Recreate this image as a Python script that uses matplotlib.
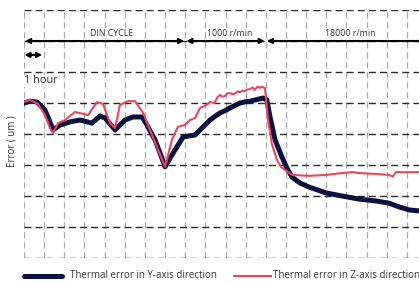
import matplotlib
matplotlib.use("Agg")
import matplotlib.pyplot as plt
from matplotlib.lines import Line2D

plt.rcParams['font.family'] = ['Open Sans', 'DejaVu Sans']

# time in hours (1 grid cell = 1 hour)
t_y = [0.0, 0.30, 0.65, 1.04, 1.25, 1.44, 1.79, 2.28, 2.78, 3.10, 3.37, 3.77, 4.02, 4.30, 4.52, 5.01,
       5.41, 5.86, 6.10, 6.30, 6.50, 6.75, 7.00, 7.25, 7.49, 7.89, 8.20, 8.49, 8.73, 9.00, 9.23,
       9.50, 9.73, 10.0, 10.22, 10.50, 10.72, 11.0, 11.22, 11.55, 11.86, 12.05,
       12.21, 12.46, 12.80, 13.05, 13.30, 13.70, 14.14, 14.99, 15.78, 16.63, 17.47, 18.11,
       18.61, 19.11, 19.60, 20.0]
err_y = [5.0, 5.06, 5.03, 4.77, 4.45, 4.13, 4.29, 4.39, 4.45, 4.40, 4.35, 4.58, 4.52, 4.30, 4.13, 4.45,
         4.55, 4.55, 4.29, 4.05, 3.81, 3.39, 2.94, 3.22, 3.48, 3.90, 3.94, 3.97, 4.13, 4.30, 4.45,
         4.58, 4.68, 4.76, 4.84, 4.93, 5.0, 5.04, 5.06, 5.11, 5.16, 5.10,
         4.55, 3.81, 3.26, 2.90, 2.61, 2.42, 2.29, 2.10, 2.0, 1.90, 1.84, 1.77,
         1.65, 1.55, 1.52, 1.51]

t_z = [0.0, 0.30, 0.69, 1.04, 1.29, 1.44, 1.69, 2.03, 2.53, 3.18, 3.62, 3.92, 4.27, 4.52, 4.76,
       5.16, 5.51, 5.91, 6.25, 6.60, 7.00, 7.34, 7.64, 7.99, 8.24, 8.50, 8.73, 8.95, 9.10, 9.23,
       9.45, 9.60, 9.73, 9.85, 9.95, 10.10, 10.22, 10.35, 10.45, 10.60, 10.72, 10.85, 10.95,
       11.10, 11.22, 11.35, 11.45, 11.60, 11.70, 11.81, 11.96, 12.11, 12.31,
       12.56, 12.75, 13.30, 14.14, 14.99, 15.78, 16.28, 16.63, 17.47, 18.11, 18.30, 18.46, 19.11,
       19.60, 20.0]
err_z = [5.03, 5.10, 4.97, 4.61, 4.19, 4.03, 4.35, 4.45, 4.71, 4.61, 5.03, 4.97, 4.35, 4.19, 4.94,
         5.06, 5.06, 4.68, 4.13, 3.58, 2.94, 3.81, 4.23, 4.29, 4.45, 4.52, 4.84, 4.90, 4.96, 5.03,
         5.00, 5.18, 5.26, 5.20, 5.22, 5.31, 5.32, 5.28, 5.30, 5.37, 5.35, 5.40, 5.38,
         5.44, 5.45, 5.50, 5.42, 5.53, 5.49, 5.52, 5.48, 4.45, 3.65,
         3.16, 2.94, 2.68, 2.65, 2.68, 2.74, 2.77, 2.74, 2.71, 2.68, 2.62, 2.77, 2.77,
         2.77, 2.77]

phase_labels = ["DIN CYCLE", "1000 r/min", "18000 r/min"]
phase_bounds = [(0, 8), (8, 12), (12, 20)]
phase_text_x = [4.35, 10.22, 16.18]

navy = "#0c1240"
red = "#e8475c"
txt = "#333333"

fig = plt.figure(figsize=(4.19, 2.82), dpi=100)
W, H = 419, 282
ax = fig.add_axes([24 / W, (H - 258) / H, (427 - 24) / W, (258 - 10) / H])
ax.set_xlim(0, 20)
ax.set_ylim(0, 8)
ax.axis('off')

for xv in range(0, 21):
    ax.axvline(xv, color="#a8a8a8", lw=0.9, ls=(0, (5, 3)), zorder=1)
for yv in range(0, 9):
    ax.axhline(yv, color="#2a2a2a", lw=1.0, ls=(0, (5, 3)), zorder=1)

ax.plot(t_y, err_y, color=navy, lw=3.6, solid_capstyle='round', solid_joinstyle='round', zorder=3)
ax.plot(t_z, err_z, color=red, lw=1.5, zorder=4)

# phase arrows
for (a, b), lab, tx in zip(phase_bounds, phase_labels, phase_text_x):
    ax.annotate("", xy=(a + 0.05, 7), xytext=(b - 0.05, 7),
                arrowprops=dict(arrowstyle="<|-|>", color="black", lw=1.5,
                                mutation_scale=7, shrinkA=0, shrinkB=0), zorder=5)
    ax.text(tx, 7.25, lab, ha="center", va="center", fontsize=6.3, color=txt, zorder=6,
            bbox=dict(facecolor="white", edgecolor="none", pad=0.3))

ax.annotate("", xy=(0.02, 6.55), xytext=(0.9, 6.55),
            arrowprops=dict(arrowstyle="<|-|>", color="black", lw=1.5,
                            mutation_scale=7, shrinkA=0, shrinkB=0), zorder=5)
ax.text(0.0, 5.72, "1 hour", ha="left", va="center", fontsize=7.8, color=txt, zorder=6,
        bbox=dict(facecolor="white", edgecolor="none", pad=0.3))

fig.text(12 / W, 1 - 141 / H, "Error ( um )", rotation=90, ha="center", va="center",
         fontsize=7, color=txt)

# legend
fig.add_artist(Line2D([24 / W, 62 / W], [1 - 276 / H] * 2, color=navy, lw=3.6,
                      solid_capstyle='round'))
fig.text(70 / W, 1 - 276 / H, "Thermal error in Y-axis direction", ha="left", va="center",
         fontsize=7, color=txt)
fig.add_artist(Line2D([234 / W, 271 / W], [1 - 276 / H] * 2, color=red, lw=1.5))
fig.text(273 / W, 1 - 276 / H, "Thermal error in Z-axis direction", ha="left", va="center",
         fontsize=7, color=txt)

fig.savefig("out.png", dpi=100)
